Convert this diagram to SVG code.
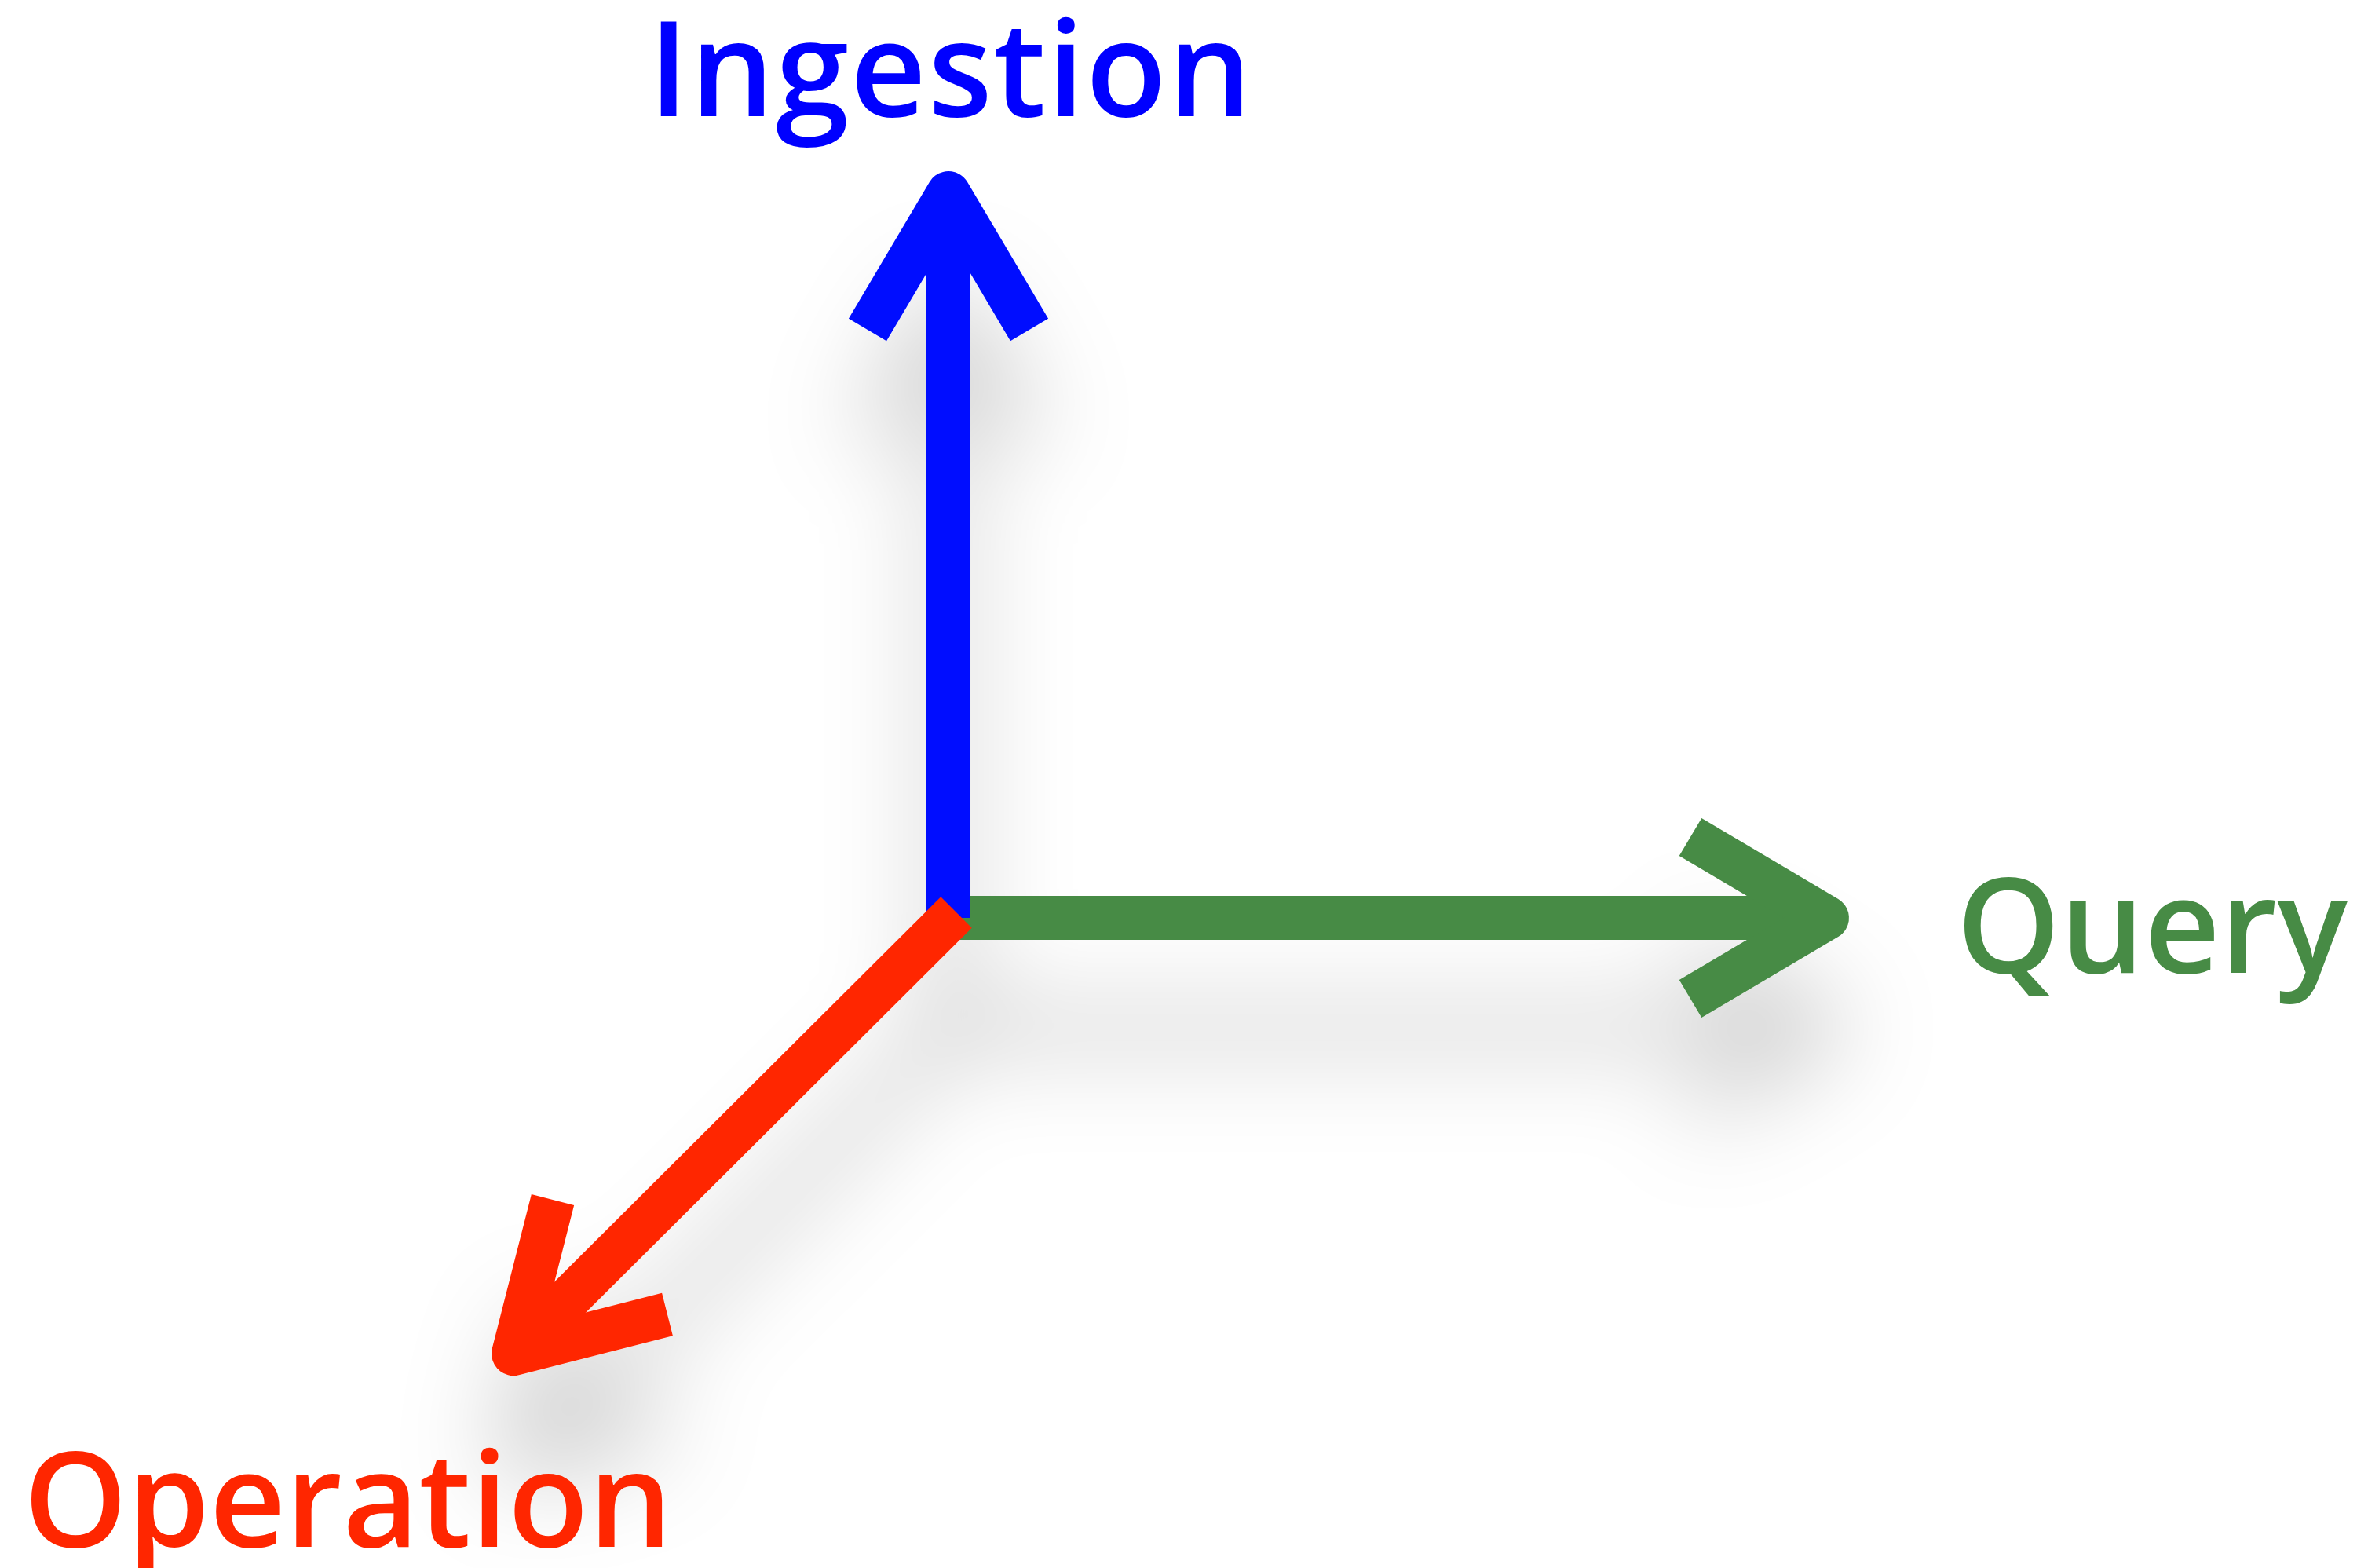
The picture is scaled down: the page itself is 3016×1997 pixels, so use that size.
<svg xmlns="http://www.w3.org/2000/svg" width="3016" height="1997" viewBox="0 0 3016 1997">
<style>
.lbl{font-family:"Open Sans","Noto Sans","Liberation Sans",sans-serif;font-size:168px;font-weight:600}
.ax{fill:none;stroke-width:56;stroke-linecap:butt;stroke-linejoin:round}
</style>
<defs>
<filter id="sh" x="-50%" y="-50%" width="200%" height="200%">
<feGaussianBlur in="SourceAlpha" stdDeviation="62"/>
<feOffset dx="0" dy="140" result="b"/>
<feFlood flood-color="#000" flood-opacity="0.19"/>
<feComposite in2="b" operator="in" result="s"/>
<feMerge><feMergeNode in="s"/><feMergeNode in="SourceGraphic"/></feMerge>
</filter>
</defs>
<rect width="3016" height="1997" fill="#fff"/>
<g id="connectors" filter="url(#sh)">
<g id="axis-query" stroke="#478b45" class="ax">
<line x1="1208" y1="1169" x2="2327" y2="1169"/>
<polyline points="2153,1066 2327,1169 2153,1272"/>
</g>
<g id="axis-ingestion" stroke="#0011ff" class="ax">
<line x1="1208" y1="1169" x2="1208" y2="246"/>
<polyline points="1105,420 1208,246 1311,420"/>
</g>
<g id="axis-operation" stroke="#ff2600" class="ax">
<line x1="1218" y1="1162" x2="654" y2="1724"/>
<polyline points="704,1528 654,1724 850,1674"/>
</g>
</g>
<g id="node-ingestion"><text class="lbl" x="826" y="148" fill="#0000ff" letter-spacing="2">Ingestion</text></g>
<g id="node-query"><text class="lbl" x="2492" y="1239" fill="#478b45">Query</text></g>
<g id="node-operation"><text class="lbl" x="30" y="1970" fill="#ff2600">Operation</text></g>
</svg>
